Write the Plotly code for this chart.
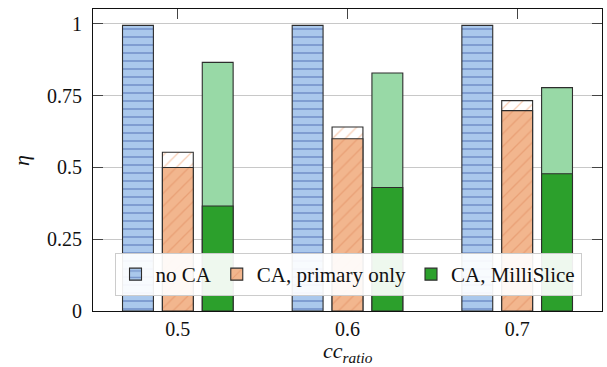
import plotly.graph_objects as go

categories = ["0.5", "0.6", "0.7"]
no_ca = [0.995, 0.995, 0.995]
primary_only = [0.500, 0.600, 0.698]
primary_only_total = [0.553, 0.641, 0.733]
millislice = [0.366, 0.430, 0.478]
millislice_total = [0.866, 0.829, 0.778]
y_ticks = [0, 0.25, 0.5, 0.75, 1]
y_tick_labels = ["0", "0.25", "0.5", "0.75", "1"]

W = 0.182
OUT = dict(color="rgb(45,45,45)", width=1.1)
FONT = "Liberation Serif"

fig = go.Figure()
# no CA
fig.add_bar(x=categories, y=no_ca, width=W, offset=-0.235 - W / 2, name="no CA",
            marker=dict(color="#aac8ec", line=OUT,
                        pattern=dict(shape="-", size=8, solidity=0.2,
                                     fgcolor="#3d5ca8", bgcolor="#aac8ec")))
# CA, primary only (upper part)
fig.add_bar(x=categories, y=primary_only_total, width=W, offset=-W / 2, showlegend=False,
            marker=dict(color="white", line=OUT,
                        pattern=dict(shape="/", size=9, solidity=0.15,
                                     fgcolor="#f0a070", bgcolor="white")))
fig.add_bar(x=categories, y=primary_only, width=W, offset=-W / 2, name="CA, primary only",
            marker=dict(color="#f2b68e", line=OUT,
                        pattern=dict(shape="/", size=9, solidity=0.15,
                                     fgcolor="#e08a5e", bgcolor="#f2b68e")))
# MilliSlice
fig.add_bar(x=categories, y=millislice_total, width=W, offset=0.235 - W / 2, showlegend=False,
            marker=dict(color="#98d9a6", line=OUT))
fig.add_bar(x=categories, y=millislice, width=W, offset=0.235 - W / 2, name="CA, MilliSlice",
            marker=dict(color="#2ca02c", line=OUT))

fig.update_layout(
    width=607, height=367,
    margin=dict(l=93, r=5, t=9, b=56, autoexpand=False),
    barmode="overlay",
    plot_bgcolor="white", paper_bgcolor="white",
    font=dict(family=FONT, size=20, color="#111"),
    showlegend=True,
    legend=dict(orientation="h", x=0.501, xanchor="center", y=0.192, yanchor="top",
                bgcolor="rgba(255,255,255,0.92)", bordercolor="#cccccc", borderwidth=1,
                font=dict(family=FONT, size=21, color="#111"),
                itemwidth=30, tracegroupgap=0),
    annotations=[
        dict(text="<i>cc</i><sub><i>ratio</i></sub>", xref="paper", yref="paper",
             x=0.5, y=-0.136, xanchor="center", yanchor="middle", showarrow=False,
             font=dict(family=FONT, size=22, color="#111")),
        dict(text="<i>η</i>", xref="paper", yref="paper", x=-0.1415, y=0.5,
             xanchor="center", yanchor="middle", showarrow=False, textangle=-90,
             font=dict(family=FONT, size=22, color="#111")),
    ],
)
fig.update_xaxes(type="category", range=[-0.5, 2.5], showline=True, linecolor="#111",
                 linewidth=1.2, mirror="ticks", ticks="inside", ticklen=10,
                 tickcolor="#444", showgrid=False, layer="below traces",
                 automargin=False)
fig.update_yaxes(range=[0, 1.052], tickvals=y_ticks, ticktext=y_tick_labels,
                 showline=True, linecolor="#111", linewidth=1.2, mirror="ticks",
                 ticks="inside", ticklen=10, tickcolor="#444", ticklabelstandoff=6,
                 showgrid=True, gridcolor="#c8c8c8", gridwidth=1, zeroline=False,
                 automargin=False)

fig.write_html("out.html", config={"displayModeBar": False},
               post_script="document.body.style.margin='0';document.body.style.overflow='hidden';")
